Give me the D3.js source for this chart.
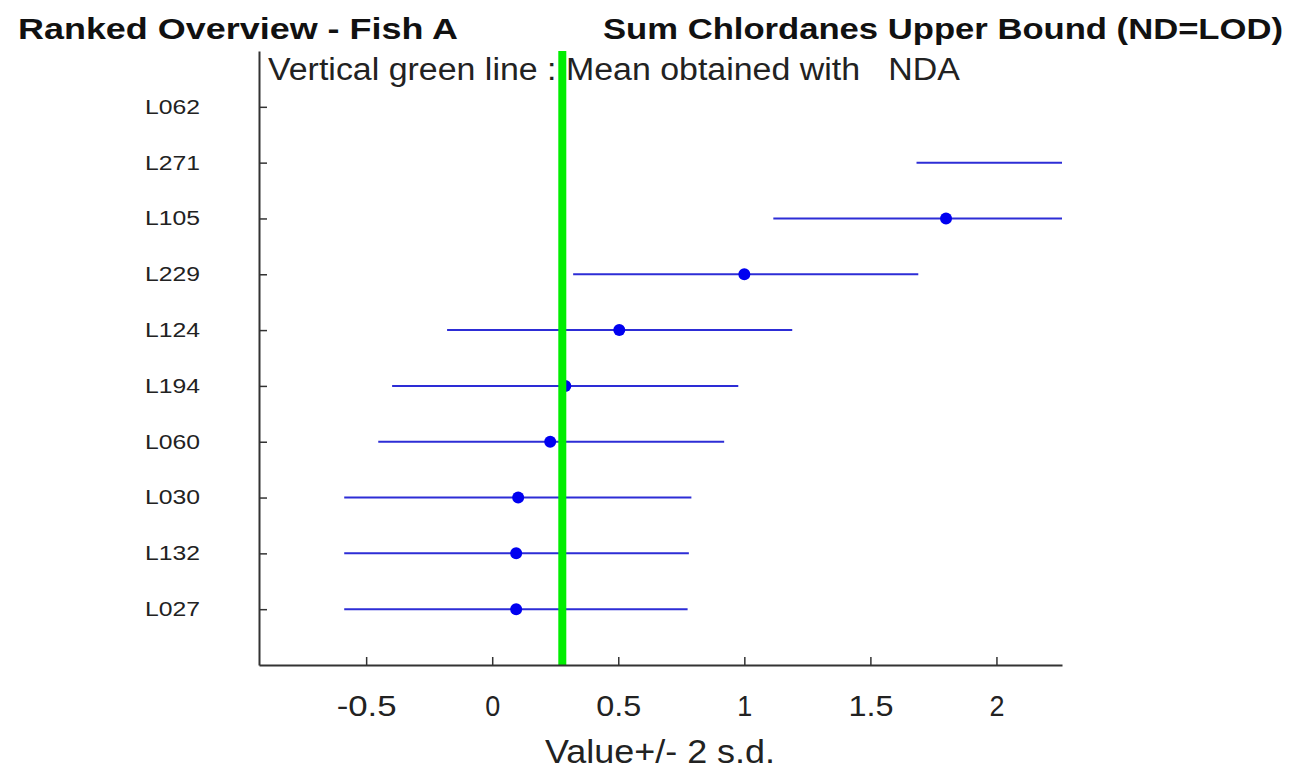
<!DOCTYPE html>
<html>
<head>
<meta charset="utf-8">
<script src="https://cdn.jsdelivr.net/npm/d3@7"></script>
<style>
  body { margin: 0; background: #fff; }
  text { font-family: "Liberation Sans", Arial, sans-serif; }
</style>
</head>
<body>
<div id="main"></div>
<script>
// labs ranked top to bottom, and their value with the +/- 2 s.d. band
const labs   = ["L062", "L271", "L105", "L229", "L124", "L194", "L060", "L030", "L132", "L027"];
const values = [null, 2.40, 1.80, 1.00, 0.504, 0.29, 0.23, 0.103, 0.095, 0.095];
const lows   = [null, 1.683, 1.115, 0.321, -0.179, -0.397, -0.452, -0.587, -0.587, -0.587];
const highs  = [null, 3.10, 2.49, 1.69, 1.19, 0.976, 0.92, 0.79, 0.78, 0.775];
const meanNDA = 0.278;
const xTicks = [-0.5, 0, 0.5, 1, 1.5, 2];

const ctx = {
    width: 1295,
    height: 771,
    margin: {top: 51, right: 233, bottom: 106, left: 259}
};

const svg = d3.select("#main").append("svg")
    .attr("width", ctx.width)
    .attr("height", ctx.height);

const x = d3.scaleLinear()
    .domain([-0.925, 2.26])
    .range([ctx.margin.left, ctx.width - ctx.margin.right]);

// rows sit at 1..10, axis runs 0..11
const y = d3.scaleLinear()
    .domain([0, labs.length + 1])
    .range([ctx.margin.top, ctx.height - ctx.margin.bottom]);

const plot = svg.append("g");
svg.append("defs").append("clipPath").attr("id", "clip")
  .append("rect")
    .attr("x", x.range()[0])
    .attr("y", y.range()[0])
    .attr("width", x.range()[1] - x.range()[0])
    .attr("height", y.range()[1] - y.range()[0]);

const rows = labs.map((d, i) => ({lab: d, v: values[i], lo: lows[i], hi: highs[i], i: i}))
    .filter(d => d.v !== null);

const marks = plot.append("g").attr("clip-path", "url(#clip)");

marks.selectAll(".bar")
    .data(rows)
    .enter()
    .append("line")
    .attr("class", "bar")
    .attr("x1", d => x(d.lo))
    .attr("x2", d => x(d.hi))
    .attr("y1", d => y(d.i + 1))
    .attr("y2", d => y(d.i + 1))
    .style("stroke", "#2d2dd6")
    .style("stroke-width", 2);

marks.selectAll(".pt")
    .data(rows)
    .enter()
    .append("circle")
    .attr("class", "pt")
    .attr("cx", d => x(d.v))
    .attr("cy", d => y(d.i + 1))
    .attr("r", 6)
    .style("fill", "#0000f0");

// green mean line
plot.append("line")
    .attr("x1", x(meanNDA)).attr("x2", x(meanNDA))
    .attr("y1", y.range()[0]).attr("y2", y.range()[1])
    .style("stroke", "#00ee00")
    .style("stroke-width", 8);

// x axis
const xAxis = d3.axisBottom(x)
    .tickValues(xTicks)
    .tickSizeInner(-8)
    .tickSizeOuter(0)
    .tickPadding(30)
    .tickFormat(d => d);
const gx = svg.append("g")
    .attr("transform", `translate(0,${y.range()[1]})`)
    .call(xAxis);
gx.select(".domain").style("stroke", "#333").style("stroke-width", 2);
gx.selectAll(".tick line").style("stroke", "#333").style("stroke-width", 1.5);
gx.selectAll(".tick text")
    .style("font-size", "30px")
    .style("fill", "#222")
    .attr("textLength", d => String(d).length * 15)
    .attr("lengthAdjust", "spacingAndGlyphs");

// y axis
const yAxis = d3.axisLeft(y)
    .tickValues(d3.range(1, labs.length + 1))
    .tickSizeInner(-8)
    .tickSizeOuter(0)
    .tickPadding(59)
    .tickFormat(d => labs[d - 1]);
const gy = svg.append("g")
    .attr("transform", `translate(${x.range()[0]},0)`)
    .call(yAxis);
gy.select(".domain").style("stroke", "#333").style("stroke-width", 2);
gy.selectAll(".tick line").style("stroke", "#333").style("stroke-width", 1.5);
gy.selectAll(".tick text")
    .style("font-size", "20px")
    .style("fill", "#222")
    .attr("textLength", 55)
    .attr("lengthAdjust", "spacingAndGlyphs");

// titles
svg.append("text")
    .attr("x", 18).attr("y", 39)
    .style("font-size", "29px")
    .style("font-weight", "bold")
    .style("fill", "#111")
    .attr("textLength", 440)
    .attr("lengthAdjust", "spacingAndGlyphs")
    .text("Ranked Overview - Fish A");

svg.append("text")
    .attr("x", 603).attr("y", 39)
    .style("font-size", "29px")
    .style("font-weight", "bold")
    .style("fill", "#111")
    .attr("textLength", 680)
    .attr("lengthAdjust", "spacingAndGlyphs")
    .text("Sum Chlordanes Upper Bound (ND=LOD)");

svg.append("text")
    .attr("x", 268).attr("y", 80)
    .style("font-size", "31px")
    .style("fill", "#222")
    .attr("textLength", 692)
    .attr("lengthAdjust", "spacingAndGlyphs")
    .text("Vertical green line : Mean obtained with \u00a0 NDA");

svg.append("text")
    .attr("x", 660).attr("y", 763)
    .attr("text-anchor", "middle")
    .style("font-size", "33px")
    .style("fill", "#222")
    .attr("textLength", 230)
    .attr("lengthAdjust", "spacingAndGlyphs")
    .text("Value+/- 2 s.d.");
</script>
</body>
</html>
